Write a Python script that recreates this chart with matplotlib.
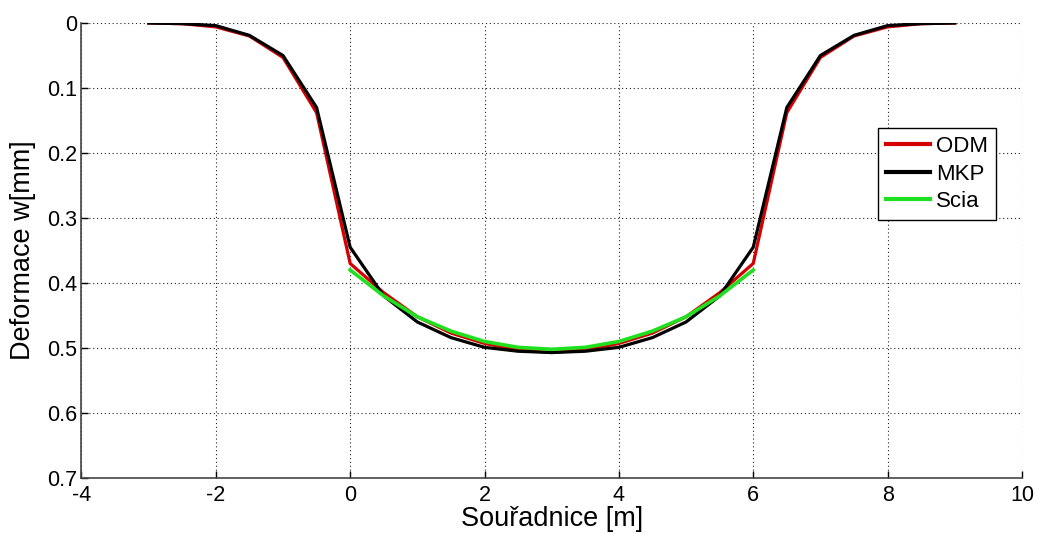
import matplotlib
matplotlib.use("Agg")
import matplotlib.pyplot as plt
from matplotlib.ticker import FixedLocator, FixedFormatter

x_main = [-3, -2.5, -2, -1.5, -1, -0.5, 0, 0.5, 1, 1.5, 2, 2.5, 3,
          3.5, 4, 4.5, 5, 5.5, 6, 6.5, 7, 7.5, 8, 8.5, 9]
odm = [0.0, 0.001, 0.006, 0.020, 0.053, 0.138, 0.370, 0.415, 0.452, 0.477, 0.493, 0.503, 0.507,
       0.503, 0.493, 0.477, 0.452, 0.415, 0.370, 0.138, 0.053, 0.020, 0.006, 0.001, 0.0]
mkp = [0.0, 0.001, 0.004, 0.019, 0.050, 0.130, 0.345, 0.420, 0.460, 0.484, 0.499, 0.505, 0.507,
       0.505, 0.499, 0.484, 0.460, 0.420, 0.345, 0.130, 0.050, 0.019, 0.004, 0.001, 0.0]
x_scia = [0, 0.5, 1, 1.5, 2, 2.5, 3, 3.5, 4, 4.5, 5, 5.5, 6]
scia = [0.380, 0.420, 0.452, 0.474, 0.490, 0.499, 0.502, 0.499, 0.490, 0.474, 0.452, 0.420, 0.380]

x_ticks = [-4, -2, 0, 2, 4, 6, 8, 10]
y_ticks = [0, 0.1, 0.2, 0.3, 0.4, 0.5, 0.6, 0.7]
y_labels = ["0", "0.1", "0.2", "0.3", "0.4", "0.5", "0.6", "0.7"]

plt.rcParams['font.family'] = ['Liberation Sans', 'DejaVu Sans']
plt.rcParams['axes.unicode_minus'] = False

fig = plt.figure(figsize=(10.38, 5.34), dpi=100)
ax = fig.add_axes([0.0785, 0.1049, 0.906, 0.852])

ax.plot(x_main, odm, color='#d40000', lw=2.3, label='ODM')
ax.plot(x_main, mkp, color='black', lw=2.3, label='MKP')
ax.plot(x_scia, scia, color='#1ee01e', lw=2.6, label='Scia')

ax.set_xlim(-4, 10)
ax.set_ylim(0.7, 0)
ax.xaxis.set_major_locator(FixedLocator(x_ticks))
ax.yaxis.set_major_locator(FixedLocator(y_ticks))
ax.yaxis.set_major_formatter(FixedFormatter(y_labels))
ax.tick_params(direction='in', length=5, labelsize=15.5, colors='black', width=1)
ax.tick_params(axis='x', pad=5)
ax.tick_params(axis='y', pad=3)

ax.grid(True, linestyle=(0, (1, 2.5)), color='#222222', lw=0.8)
ax.spines['top'].set_visible(False)
ax.spines['right'].set_visible(False)
for s in ('left', 'bottom'):
    ax.spines[s].set_color('#444444')
    ax.spines[s].set_linewidth(1.2)

ax.set_xlabel('Souřadnice [m]', fontsize=19.5, labelpad=0)
ax.set_ylabel('Deformace w[mm]', fontsize=19.5, labelpad=8)

leg = ax.legend(loc='upper left', bbox_to_anchor=(0.847, 0.769), fontsize=16,
                frameon=True, fancybox=False, edgecolor='black', framealpha=1,
                handlelength=2.0, handletextpad=0.25, borderpad=0.35, labelspacing=0.3,
                borderaxespad=0)
leg.get_frame().set_linewidth(1.0)
for line in leg.get_lines():
    line.set_linewidth(3.0)

fig.savefig('out.png', dpi=100)
